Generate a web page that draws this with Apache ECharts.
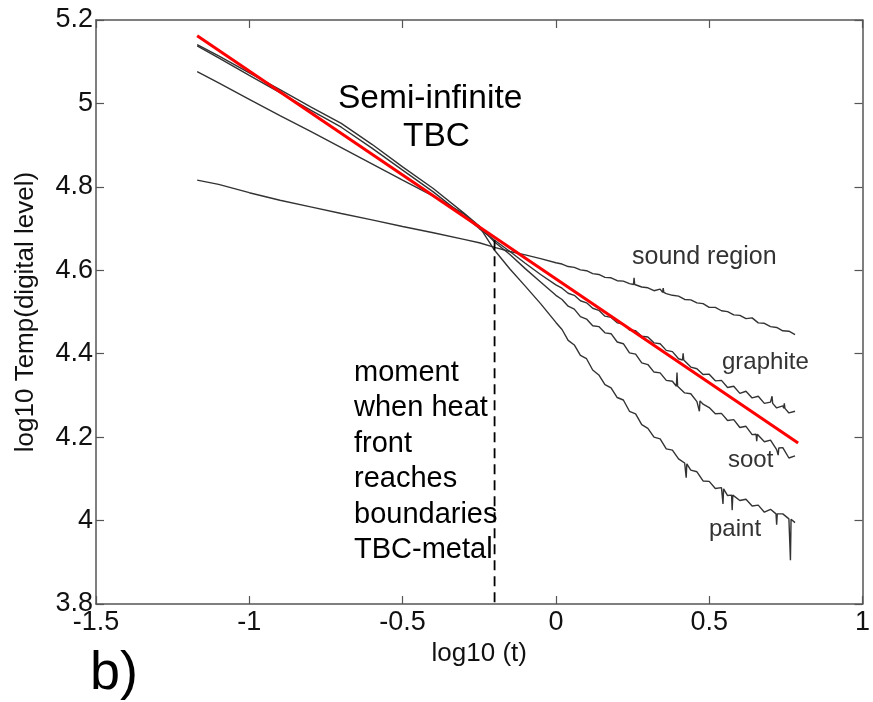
<!DOCTYPE html>
<html>
<head>
<meta charset="utf-8">
<script src="https://cdn.jsdelivr.net/npm/echarts@6/dist/echarts.min.js"></script>
<style>
  html, body { margin: 0; padding: 0; background: #fff; }
  #chart { width: 873px; height: 702px; }
</style>
</head>
<body>
<div id="chart"></div>
<script>
// log10 of time, shared sample points for all measured curves
const logT = [-1.17, -1.1, -1.0, -0.9, -0.8, -0.7, -0.6, -0.5, -0.4, -0.3, -0.25, -0.2, -0.15, -0.1, -0.05, 0.0,
  0.02, 0.04, 0.06, 0.08, 0.10, 0.12, 0.14, 0.16, 0.18, 0.20, 0.22, 0.24, 0.26, 0.28, 0.30, 0.32, 0.34, 0.36, 0.38, 0.40,
  0.42, 0.44, 0.46, 0.48, 0.50, 0.52, 0.54, 0.56, 0.58, 0.60, 0.62, 0.64, 0.66, 0.68, 0.70, 0.72, 0.74, 0.76, 0.78];

// log10 of temperature (digital level) for each surface
const soundRegion = [4.816, 4.806, 4.786, 4.768, 4.752, 4.736, 4.721, 4.705, 4.690, 4.674, 4.666, 4.655, 4.645, 4.637, 4.628, 4.618,
  4.615, 4.609, 4.607, 4.601, 4.599, 4.592, 4.590, 4.583, 4.582, 4.575, 4.574, 4.568, 4.565, 4.560, 4.558, 4.551, 4.555, 4.544, 4.540, 4.538,
  4.530, 4.529, 4.522, 4.520, 4.511, 4.511, 4.503, 4.501, 4.493, 4.492, 4.484, 4.486, 4.474, 4.473, 4.465, 4.463, 4.455, 4.454, 4.446];

const graphite = [5.138, 5.109, 5.067, 5.026, 4.984, 4.943, 4.893, 4.840, 4.788, 4.730, 4.700, 4.672, 4.645, 4.617, 4.590, 4.565,
  4.557, 4.545, 4.540, 4.527, 4.522, 4.509, 4.504, 4.490, 4.487, 4.474, 4.471, 4.457, 4.455, 4.442, 4.440, 4.426, 4.424, 4.408, 4.405, 4.388,
  4.384, 4.368, 4.364, 4.350, 4.351, 4.335, 4.336, 4.319, 4.322, 4.305, 4.310, 4.294, 4.298, 4.281, 4.284, 4.270, 4.275, 4.258, 4.262];

const soot = [5.141, 5.114, 5.073, 5.033, 4.992, 4.952, 4.902, 4.848, 4.796, 4.737, 4.706, 4.668, 4.638, 4.604, 4.572, 4.540,
  4.530, 4.514, 4.507, 4.489, 4.483, 4.467, 4.465, 4.450, 4.448, 4.428, 4.424, 4.402, 4.399, 4.378, 4.374, 4.356, 4.354, 4.336, 4.334, 4.320,
  4.306, 4.304, 4.285, 4.279, 4.271, 4.256, 4.257, 4.240, 4.242, 4.223, 4.226, 4.206, 4.211, 4.189, 4.193, 4.170, 4.175, 4.150, 4.155];

const paint = [5.076, 5.049, 5.010, 4.971, 4.933, 4.894, 4.855, 4.816, 4.778, 4.735, 4.705, 4.648, 4.603, 4.562, 4.520, 4.475,
  4.458, 4.432, 4.421, 4.396, 4.388, 4.361, 4.349, 4.326, 4.318, 4.295, 4.289, 4.262, 4.256, 4.230, 4.221, 4.200, 4.196, 4.172, 4.169, 4.148,
  4.138, 4.121, 4.117, 4.095, 4.094, 4.077, 4.079, 4.060, 4.058, 4.048, 4.051, 4.035, 4.037, 4.020, 4.027, 4.012, 4.016, 4.004, 3.995];

// single-frame noise spikes: [log10 t, level around spike, spike tip]
const soundSpikes = [[0.255, 4.566, 4.582], [0.35, 4.547, 4.557]];
const graphiteSpikes = [[0.415, 4.385, 4.401], [0.705, 4.281, 4.298], [0.745, 4.269, 4.281]];
const sootSpikes = [[0.395, 4.322, 4.355], [0.468, 4.287, 4.262], [0.655, 4.207, 4.190], [0.725, 4.174, 4.157]];
const paintSpikes = [[0.425, 4.136, 4.103], [0.545, 4.076, 4.040], [0.575, 4.061, 4.025], [0.72, 4.016, 3.990], [0.765, 4.003, 3.905]];

// semi-infinite TBC fit (slope -1/2)
const fitT = [-1.17, 0.79];
const fitTemp = [5.162, 4.186];

// moment when heat front reaches TBC-metal boundary
const frontT = [-0.2, -0.2];
const frontTemp = [4.672, 3.8];

const xTicks = { min: -1.5, max: 1, step: 0.5 };
const yTicks = { min: 3.8, max: 5.2, step: 0.2 };

function buildCurve(ys, spikes) {
  const pts = logT.map((t, i) => [t, ys[i]]);
  spikes.forEach(([t, base, tip]) => {
    pts.push([t - 0.002, base], [t, tip], [t + 0.002, base]);
  });
  return pts.sort((a, b) => a[0] - b[0]);
}

const font = 'Liberation Sans, Arial, Helvetica, sans-serif';
const axisColor = '#555';
const curveStyle = { color: '#333', width: 1.4 };

const chart = echarts.init(document.getElementById('chart'));

const boxAxis = (extra) => Object.assign({
  type: 'value',
  axisLine: { show: true, onZero: false, lineStyle: { color: axisColor, width: 1.5 } },
  axisTick: { show: true, inside: true, length: 8, lineStyle: { color: axisColor, width: 1.2 } },
  splitLine: { show: false }
}, extra);

chart.setOption({
  animation: false,
  backgroundColor: '#fff',
  grid: { left: 96, right: 5, top: 20, bottom: 98, containLabel: false },
  xAxis: [
    boxAxis({
      position: 'bottom', min: xTicks.min, max: xTicks.max, interval: xTicks.step,
      name: 'log10 (t)', nameLocation: 'middle', nameGap: 32,
      nameTextStyle: { fontFamily: font, fontSize: 26, color: '#111' },
      axisLabel: { fontFamily: font, fontSize: 27, color: '#111', margin: 5, showMinLabel: true, showMaxLabel: true,
        formatter: v => String(+v.toFixed(1)) }
    }),
    boxAxis({
      position: 'top', min: xTicks.min, max: xTicks.max, interval: xTicks.step,
      axisLabel: { show: false }
    })
  ],
  yAxis: [
    boxAxis({
      position: 'left', min: yTicks.min, max: yTicks.max, interval: yTicks.step,
      name: 'log10 Temp(digital level)', nameLocation: 'middle', nameGap: 57,
      nameTextStyle: { fontFamily: font, fontSize: 26, color: '#111' },
      axisLabel: { fontFamily: font, fontSize: 27, color: '#111', margin: 3, showMinLabel: true, showMaxLabel: true,
        formatter: v => String(+v.toFixed(1)) }
    }),
    boxAxis({
      position: 'right', min: yTicks.min, max: yTicks.max, interval: yTicks.step,
      axisLabel: { show: false }
    })
  ],
  series: [
    { name: 'sound region', type: 'line', showSymbol: false, data: buildCurve(soundRegion, soundSpikes), lineStyle: curveStyle, z: 2 },
    { name: 'graphite', type: 'line', showSymbol: false, data: buildCurve(graphite, graphiteSpikes), lineStyle: curveStyle, z: 2 },
    { name: 'soot', type: 'line', showSymbol: false, data: buildCurve(soot, sootSpikes), lineStyle: curveStyle, z: 2 },
    { name: 'paint', type: 'line', showSymbol: false, data: buildCurve(paint, paintSpikes), lineStyle: curveStyle, z: 2 },
    { name: 'heat front', type: 'line', showSymbol: false, data: frontT.map((t, i) => [t, frontTemp[i]]),
      lineStyle: { color: '#000', width: 1.8, type: [10, 6] }, z: 3 },
    { name: 'semi-infinite fit', type: 'line', showSymbol: false, data: fitT.map((t, i) => [t, fitTemp[i]]),
      lineStyle: { color: '#ff0000', width: 3 }, z: 4 }
  ],
  graphic: [
    { type: 'text', left: 338, top: 82, style: { text: 'Semi-infinite', font: '33.5px ' + font, fill: '#000' } },
    { type: 'text', left: 403, top: 120, style: { text: 'TBC', font: '33.5px ' + font, fill: '#000' } },
    { type: 'text', left: 354, top: 355, style: { text: 'moment\nwhen heat\nfront\nreaches\nboundaries\nTBC-metal',
        font: '29px ' + font, lineHeight: 35.5, fill: '#000' } },
    { type: 'text', left: 632, top: 245, style: { text: 'sound region', font: '25px ' + font, fill: '#333' } },
    { type: 'text', left: 722, top: 350, style: { text: 'graphite', font: '24px ' + font, fill: '#333' } },
    { type: 'text', left: 728, top: 448, style: { text: 'soot', font: '24px ' + font, fill: '#333' } },
    { type: 'text', left: 709, top: 517, style: { text: 'paint', font: '24px ' + font, fill: '#333' } },
    { type: 'text', left: 90, top: 647, style: { text: 'b)', font: '54px ' + font, fill: '#000' } }
  ]
});
</script>
</body>
</html>
